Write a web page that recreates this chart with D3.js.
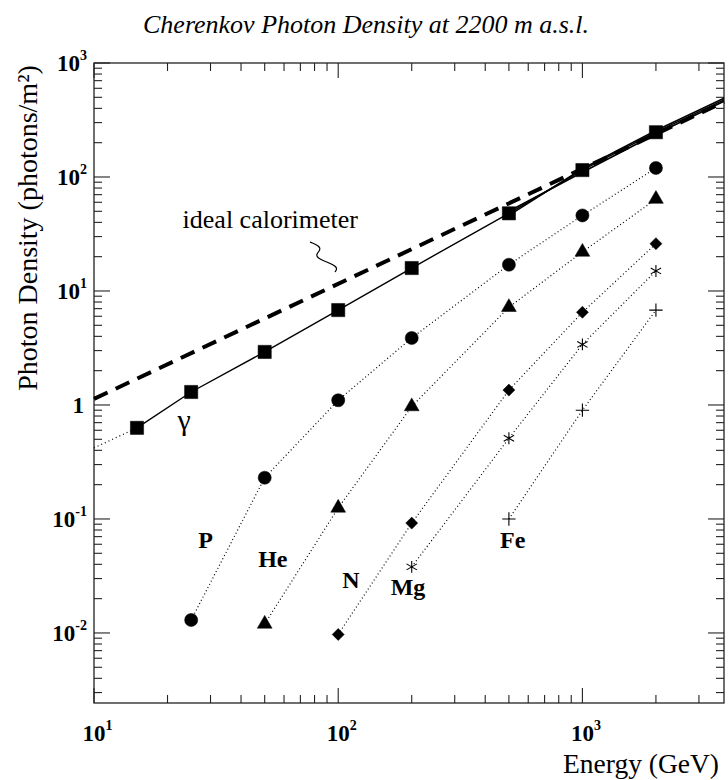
<!DOCTYPE html>
<html>
<head>
<meta charset="utf-8">
<script src="https://cdn.jsdelivr.net/npm/d3@7"></script>
<style>
  body { margin: 0; background: #fff; }
  svg text { font-family: "Liberation Serif", "DejaVu Serif", serif; }
</style>
</head>
<body>
<div id="chart"></div>
<script>
// data (energy in GeV, density in photons/m^2)
var energyGamma = [15, 25, 50, 100, 200, 500, 1000, 2000];
var densityGamma = [0.63, 1.30, 2.92, 6.8, 15.9, 48, 115, 247];
var energyGammaLow = [10, 15];
var densityGammaLow = [0.42, 0.63];
var energyGammaHigh = [2000, 3800];
var densityGammaHigh = [247, 475];
// extra overlapping curves at the high end
var energyBand = [500, 1000, 2000, 3800];
var densityBand1 = [46, 118, 256, 490];
var densityBand2 = [50, 110, 238, 462];

var energyP = [25, 50, 100, 200, 500, 1000, 2000];
var densityP = [0.013, 0.23, 1.1, 3.87, 17, 46, 120];
var energyHe = [50, 100, 200, 500, 1000, 2000];
var densityHe = [0.012, 0.125, 0.97, 7.2, 22, 64];
var energyN = [100, 200, 500, 1000, 2000];
var densityN = [0.0097, 0.092, 1.35, 6.5, 26];
var energyMg = [200, 500, 1000, 2000];
var densityMg = [0.038, 0.51, 3.4, 15];
var energyFe = [500, 1000, 2000];
var densityFe = [0.10, 0.90, 6.8];

var energyIdeal = [10, 3800];
var densityIdeal = [1.13, 455];

var xTickLabels = [["10", "1"], ["10", "2"], ["10", "3"]];
var yTickLabels = [["10", "-2"], ["10", "-1"], ["1", ""], ["10", "1"], ["10", "2"], ["10", "3"]];

var width = 728, height = 780;
var pl = 94, pr = 724, pt = 63, pb = 703;

var svg = d3.select("#chart").append("svg")
    .attr("width", width)
    .attr("height", height);

var x = d3.scaleLog().domain([10, 3800]).range([pl, pr]);
var y = d3.scaleLog().domain([0.00243, 1000]).range([pb, pt]);

function isMajor(v) {
  var l = Math.log10(v);
  return Math.abs(l - Math.round(l)) < 1e-6;
}

// frame
svg.append("rect")
    .attr("x", pl).attr("y", pt)
    .attr("width", pr - pl).attr("height", pb - pt)
    .style("fill", "none")
    .style("stroke", "#222")
    .style("stroke-width", 1.3);

// ticks on all four sides, pointing in
var xt = x.ticks();
var yt = y.ticks();
var ticks = svg.append("g").style("stroke", "#222").style("stroke-width", 1.1);

ticks.selectAll(".xb").data(xt).enter().append("line")
    .attr("x1", function(d) { return x(d); })
    .attr("x2", function(d) { return x(d); })
    .attr("y1", pb)
    .attr("y2", function(d) { return pb - (isMajor(d) ? 15 : 8); });
ticks.selectAll(".xt").data(xt).enter().append("line")
    .attr("x1", function(d) { return x(d); })
    .attr("x2", function(d) { return x(d); })
    .attr("y1", pt)
    .attr("y2", function(d) { return pt + (isMajor(d) ? 15 : 8); });
ticks.selectAll(".yl").data(yt).enter().append("line")
    .attr("y1", function(d) { return y(d); })
    .attr("y2", function(d) { return y(d); })
    .attr("x1", pl)
    .attr("x2", function(d) { return pl + (isMajor(d) ? 16 : 8); });
ticks.selectAll(".yr").data(yt).enter().append("line")
    .attr("y1", function(d) { return y(d); })
    .attr("y2", function(d) { return y(d); })
    .attr("x1", pr)
    .attr("x2", function(d) { return pr - (isMajor(d) ? 16 : 8); });

// tick labels
var xMajor = xt.filter(isMajor);
var xl = svg.selectAll(".xlab").data(xMajor).enter().append("text")
    .attr("x", function(d) { return x(d) - 11.5; })
    .attr("y", 741)
    .style("font-size", "23px")
    .style("font-weight", "bold");
xl.append("tspan").text(function(d, i) { return xTickLabels[i][0]; });
xl.append("tspan").attr("dy", -11).style("font-size", "14px")
    .text(function(d, i) { return xTickLabels[i][1]; });

var yMajor = yt.filter(isMajor);
var yl = svg.selectAll(".ylab").data(yMajor).enter().append("text")
    .attr("x", function(d) { return Math.log10(d) === 0 ? 84 : 87; })
    .attr("y", function(d) { return y(d) + 8; })
    .attr("text-anchor", "end")
    .style("font-size", "23px")
    .style("font-weight", "bold");
yl.append("tspan").text(function(d, i) { return yTickLabels[i][0]; });
yl.append("tspan").attr("dy", -11).style("font-size", "14px")
    .text(function(d, i) { return yTickLabels[i][1]; });

// axis titles and title
svg.append("text")
    .attr("x", 143).attr("y", 33)
    .style("font-size", "26px")
    .style("font-style", "italic")
    .text("Cherenkov Photon Density at 2200 m a.s.l.");

svg.append("text")
    .attr("x", 719).attr("y", 773)
    .attr("text-anchor", "end")
    .style("font-size", "27.5px")
    .text("Energy (GeV)");

svg.append("text")
    .attr("transform", "translate(37," + 228 + ") rotate(-90)")
    .attr("text-anchor", "middle")
    .style("font-size", "28px")
    .text("Photon Density (photons/m²)");

// lines
var line = d3.line()
    .x(function(d) { return x(d[0]); })
    .y(function(d) { return y(d[1]); });

function pairs(e, v) { return e.map(function(d, i) { return [d, v[i]]; }); }

var plot = svg.append("g");

plot.append("path").datum(pairs(energyIdeal, densityIdeal))
    .attr("d", line)
    .style("fill", "none").style("stroke", "#000")
    .style("stroke-width", 4)
    .style("stroke-dasharray", "15,9");

plot.append("path").datum(pairs(energyGamma, densityGamma))
    .attr("d", line)
    .style("fill", "none").style("stroke", "#000").style("stroke-width", 1.4);
plot.append("path").datum(pairs(energyGammaHigh, densityGammaHigh))
    .attr("d", line)
    .style("fill", "none").style("stroke", "#000").style("stroke-width", 1.4);
[densityBand1, densityBand2].forEach(function(b) {
  plot.append("path").datum(pairs(energyBand, b))
      .attr("d", line)
      .style("fill", "none").style("stroke", "#000").style("stroke-width", 1.6);
});
plot.append("path").datum(pairs(energyGammaLow, densityGammaLow))
    .attr("d", line)
    .style("fill", "none").style("stroke", "#000")
    .style("stroke-width", 1.2).style("stroke-dasharray", "1,3");

var dotted = [[energyP, densityP], [energyHe, densityHe], [energyN, densityN],
              [energyMg, densityMg], [energyFe, densityFe]];
dotted.forEach(function(s) {
  plot.append("path").datum(pairs(s[0], s[1]))
      .attr("d", line)
      .style("fill", "none").style("stroke", "#000")
      .style("stroke-width", 1.2).style("stroke-dasharray", "1,2.6");
});

// markers
var asterisk = d3.symbolAsterisk || d3.symbolCross;
var plus = d3.symbolPlus || d3.symbolCross;
var markerSets = [
  { e: energyGamma, v: densityGamma, type: d3.symbolSquare, size: 175, rot: 0, fill: true },
  { e: energyP, v: densityP, type: d3.symbolCircle, size: 135, rot: 0, fill: true },
  { e: energyHe, v: densityHe, type: d3.symbolTriangle, size: 95, rot: 0, fill: true },
  { e: energyN, v: densityN, type: d3.symbolSquare, size: 72, rot: 45, fill: true },
  { e: energyMg, v: densityMg, type: asterisk, size: 100, rot: 0, fill: false },
  { e: energyFe, v: densityFe, type: plus, size: 60, rot: 0, fill: false }
];
markerSets.forEach(function(m) {
  plot.selectAll(null).data(pairs(m.e, m.v)).enter().append("path")
      .attr("d", d3.symbol().type(m.type).size(m.size))
      .attr("transform", function(d) {
        return "translate(" + x(d[0]) + "," + y(d[1]) + ") rotate(" + m.rot + ")";
      })
      .style("fill", m.fill ? "#000" : "none")
      .style("stroke", "#000")
      .style("stroke-width", m.fill ? 0.5 : 1.1);
});

// series labels
var labels = [
  { t: "γ", e: 22, v: 0.6, bold: false, size: 30 },
  { t: "P", e: 26.7, v: 0.056, bold: true, size: 24 },
  { t: "He", e: 47, v: 0.038, bold: true, size: 24 },
  { t: "N", e: 104, v: 0.025, bold: true, size: 24 },
  { t: "Mg", e: 164, v: 0.0216, bold: true, size: 24 },
  { t: "Fe", e: 460, v: 0.056, bold: true, size: 24 }
];
svg.selectAll(".slab").data(labels).enter().append("text")
    .attr("x", function(d) { return x(d.e); })
    .attr("y", function(d) { return y(d.v); })
    .style("font-size", function(d) { return d.size + "px"; })
    .style("font-weight", function(d) { return d.bold ? "bold" : "normal"; })
    .text(function(d) { return d.t; });

// ideal calorimeter annotation with wavy pointer
svg.append("text")
    .attr("x", 358).attr("y", 228)
    .attr("text-anchor", "end")
    .style("font-size", "26px")
    .text("ideal calorimeter");

var squiggle = d3.range(0, 31).map(function(i) {
  var t = i / 30;
  return [310 + t * 25 + 5 * Math.sin(t * Math.PI * 3), 242 + t * 30];
});
svg.append("path")
    .attr("d", d3.line().curve(d3.curveBasis)(squiggle))
    .style("fill", "none").style("stroke", "#000").style("stroke-width", 1.2);
</script>
</body>
</html>
